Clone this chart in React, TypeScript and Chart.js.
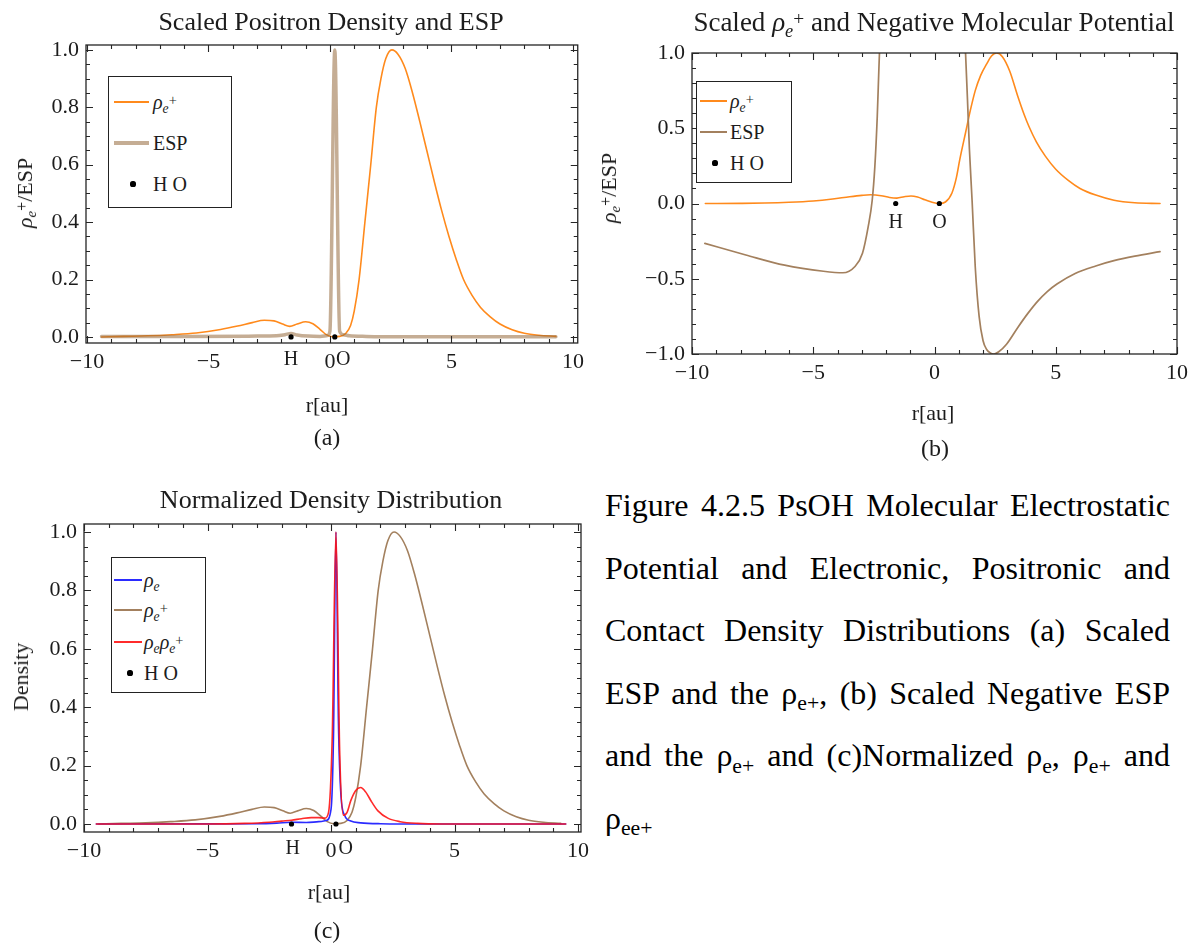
import React, { useEffect, useRef } from "react";
import { Chart, registerables } from "chart.js";

Chart.register(...registerables);

const SERIF = "'Liberation Serif', 'Times New Roman', Times, serif";
const TEXT = "#1c1c1c";
const ORANGE = "#ff8a1c";
const TAN = "rgba(150, 105, 60, 0.55)";
const BROWN = "#a3805e";
const BLUE = "#2b2bff";
const RED = "rgba(255, 20, 20, 0.9)";

// ---------------- data ----------------
// positron density rho_e+ (panels a and c)
const rhoPosR = [-9.4, -8.5, -7.5, -6.5, -5.5, -4.5, -3.8, -3.2, -2.7, -2.3, -1.95, -1.65, -1.35, -1.0, -0.7, -0.4, -0.15, 0.1, 0.4, 0.65, 0.85, 1.0, 1.2, 1.44, 1.68, 1.91, 2.1, 2.3, 2.55, 2.8, 3.1, 3.4, 3.7, 4.0, 4.3, 4.6, 4.9, 5.2, 5.5, 5.85, 6.2, 6.6, 7.0, 7.5, 8.0, 8.6, 9.3];
const rhoPosV = [0.0, 0.002, 0.004, 0.008, 0.014, 0.026, 0.038, 0.05, 0.058, 0.056, 0.045, 0.037, 0.045, 0.053, 0.046, 0.026, 0.008, 0.001, 0.002, 0.012, 0.04, 0.09, 0.2, 0.4, 0.6, 0.8, 0.9, 0.97, 1.0, 0.985, 0.935, 0.85, 0.75, 0.645, 0.54, 0.44, 0.35, 0.27, 0.2, 0.145, 0.103, 0.07, 0.045, 0.025, 0.013, 0.006, 0.002];

// scaled ESP (panel a)
const espAR = [-9.4, -6, -3, -2.2, -1.85, -1.6, -1.35, -0.9, -0.4, -0.1, 0.0, 0.2, 0.4, 0.55, 0.8, 1.5, 3, 9.3];
const espAV = [0.002, 0.002, 0.003, 0.004, 0.008, 0.012, 0.007, 0.003, 0.002, 0.005, 0.02, 1.0, 0.02, 0.008, 0.004, 0.002, 0.001, 0.001];

// rho_e+ (panel b)
const rhoPosBR = [-9.45, -8, -7, -6, -5, -4.2, -3.5, -3, -2.64, -2.2, -1.85, -1.55, -1.25, -0.97, -0.7, -0.4, -0.1, 0.2, 0.45, 0.72, 0.9, 1.04, 1.28, 1.48, 1.68, 1.9, 2.16, 2.35, 2.56, 2.8, 3.1, 3.42, 3.7, 3.9, 4.2, 4.57, 5.0, 5.53, 6.0, 6.65, 7.4, 8.26, 9.3];
const rhoPosBV = [0, 0.001, 0.003, 0.008, 0.017, 0.03, 0.045, 0.054, 0.058, 0.052, 0.04, 0.036, 0.045, 0.05, 0.043, 0.025, 0.008, 0.0, 0.01, 0.07, 0.17, 0.29, 0.47, 0.62, 0.75, 0.85, 0.93, 0.98, 1.0, 0.975, 0.88, 0.72, 0.59, 0.51, 0.41, 0.315, 0.228, 0.152, 0.1, 0.056, 0.022, 0.005, 0.0];

// negative molecular potential (panel b)
const espBR = [-9.47, -7.78, -6.18, -4.58, -3.78, -3.29, -2.97, -2.73, -2.57, -2.46, -2.36, -2.29, -2.2, -2.0, -1.5, 0.5, 1.0, 1.2, 1.28, 1.36, 1.44, 1.55, 1.68, 1.84, 2.0, 2.15, 2.32, 2.45, 2.65, 2.97, 3.45, 3.85, 4.25, 4.65, 5.05, 5.8, 6.65, 7.4, 8.26, 9.3];
const espBV = [-0.265, -0.342, -0.41, -0.45, -0.46, -0.42, -0.33, -0.15, 0.02, 0.245, 0.58, 0.91, 1.3, 2.2, 4, 4, 2.2, 1.3, 1.0, 0.69, 0.36, 0.02, -0.42, -0.75, -0.91, -0.97, -0.995, -1.0, -0.985, -0.935, -0.82, -0.73, -0.65, -0.585, -0.535, -0.465, -0.415, -0.38, -0.35, -0.32];

// electron density rho_e (panel c)
const rhoElR = [-9.5, -5, -3, -2.2, -1.6, -1.0, -0.5, -0.2, 0.0, 0.1, 0.2, 0.3, 0.4, 0.55, 0.8, 1.2, 2, 4, 9.5];
const rhoElV = [0, 0.0005, 0.001, 0.003, 0.006, 0.005, 0.008, 0.012, 0.05, 0.3, 1.0, 0.35, 0.1, 0.03, 0.01, 0.004, 0.001, 0, 0];

// contact density rho_e rho_e+ (panel c)
const rhoCtR = [-9.5, -5, -3.5, -2.5, -2.0, -1.6, -1.2, -0.8, -0.5, -0.25, -0.1, 0.05, 0.2, 0.35, 0.5, 0.65, 0.8, 1.0, 1.2, 1.4, 1.65, 1.9, 2.3, 2.8, 3.5, 4.5, 9.5];
const rhoCtV = [0, 0, 0.002, 0.006, 0.01, 0.013, 0.018, 0.022, 0.022, 0.02, 0.04, 0.3, 1.0, 0.25, 0.03, 0.04, 0.08, 0.115, 0.125, 0.11, 0.075, 0.045, 0.02, 0.008, 0.002, 0, 0];

// nuclei
const atomNames = ["H", "O"];
const atomR = [-1.6, 0.2];
const atomV = [0, 0];
const atomLabelRA = [-1.6, 0.55];
const atomLabelRB = [-1.6, 0.2];
const atomLabelVB = -0.125;
const atomLabelRC = [-1.55, 0.6];

// ---------------- helpers ----------------
const pts = (xs: number[], ys: number[]) => xs.map((x, i) => ({ x, y: ys[i] }));
const fmt = (v: number, d: number) => {
  const s = Math.abs(v).toFixed(d);
  return v < -1e-9 ? "\u2212" + s : s;
};

const framePlugin = {
  id: "frameTicks",
  afterDatasetsDraw(chart: any, _a: any, opts: any) {
    const { ctx, chartArea: a } = chart;
    const xs = chart.scales.x;
    const ys = chart.scales.y;
    ctx.save();
    ctx.strokeStyle = "#262626";
    ctx.lineWidth = 1.3;
    ctx.strokeRect(a.left, a.top, a.right - a.left, a.bottom - a.top);
    ctx.lineWidth = 1.1;
    ctx.beginPath();
    for (let n = Math.ceil(xs.min - 1e-9); n <= xs.max + 1e-9; n++) {
      const p = Math.round(xs.getPixelForValue(n)) + 0.5;
      const L = n % 5 === 0 ? 7 : 4;
      ctx.moveTo(p, a.bottom);
      ctx.lineTo(p, a.bottom - L);
      ctx.moveTo(p, a.top);
      ctx.lineTo(p, a.top + L);
    }
    const k0 = Math.ceil(ys.min / opts.yMinor - 1e-6);
    const k1 = Math.floor(ys.max / opts.yMinor + 1e-6);
    for (let k = k0; k <= k1; k++) {
      const v = k * opts.yMinor;
      const q = v / opts.yMajor;
      const major = Math.abs(q - Math.round(q)) < 1e-6;
      const p = Math.round(ys.getPixelForValue(v)) + 0.5;
      const L = major ? 7 : 4;
      ctx.moveTo(a.left, p);
      ctx.lineTo(a.left + L, p);
      ctx.moveTo(a.right, p);
      ctx.lineTo(a.right - L, p);
    }
    ctx.stroke();
    ctx.fillStyle = TEXT;
    ctx.font = `20px ${SERIF}`;
    ctx.textAlign = "center";
    ctx.textBaseline = "middle";
    (opts.labels || []).forEach((l: any) => {
      const px = xs.getPixelForValue(l.r);
      const py = l.v !== undefined ? ys.getPixelForValue(l.v) : a.bottom + opts.labelOffset;
      ctx.fillText(l.text, px, py);
    });
    ctx.restore();
  },
};

type PanelSpec = {
  xMin: number; xMax: number; yMin: number; yMax: number; yStep: number; yMinor: number;
  yAxisWidth: number; xAxisHeight: number; padTop: number; padRight: number;
  datasets: any[]; labels: { text: string; r: number; v?: number }[]; labelOffset?: number;
};

function buildConfig(p: PanelSpec): any {
  const tickFont = { family: SERIF, size: 22 };
  return {
    type: "line",
    data: { datasets: p.datasets },
    options: {
      animation: false,
      responsive: false,
      devicePixelRatio: 1,
      events: [],
      layout: { padding: { top: p.padTop, right: p.padRight, left: 0, bottom: 0 } },
      plugins: {
        legend: { display: false },
        title: { display: false },
        tooltip: { enabled: false },
        frameTicks: { yMinor: p.yMinor, yMajor: p.yStep, labels: p.labels, labelOffset: p.labelOffset ?? 17 },
      },
      elements: {
        point: { radius: 0 },
        line: { cubicInterpolationMode: "monotone", borderCapStyle: "round", borderJoinStyle: "round" },
      },
      scales: {
        x: {
          type: "linear",
          min: p.xMin,
          max: p.xMax,
          grid: { display: false, drawTicks: false },
          border: { display: false },
          ticks: {
            stepSize: 5, includeBounds: false, autoSkip: false, maxRotation: 0, minRotation: 0,
            padding: 6, color: TEXT, font: tickFont,
            callback: (v: any) => fmt(Number(v), 0),
          },
          afterFit: (s: any) => { s.height = p.xAxisHeight; },
        },
        y: {
          type: "linear",
          min: p.yMin,
          max: p.yMax,
          grid: { display: false, drawTicks: false },
          border: { display: false },
          ticks: {
            stepSize: p.yStep, includeBounds: false, autoSkip: false,
            padding: 7, color: TEXT, font: tickFont,
            callback: (v: any) => fmt(Number(v), 1),
          },
          afterFit: (s: any) => { s.width = p.yAxisWidth; },
        },
      },
    },
    plugins: [framePlugin],
  };
}

const lineDs = (xs: number[], ys: number[], color: string, width: number, order: number) => ({
  data: pts(xs, ys), borderColor: color, borderWidth: width, pointRadius: 0, fill: false, order,
});
const dotDs = () => ({
  data: pts(atomR, atomV), showLine: false, pointRadius: 2.6, pointBackgroundColor: "#000",
  pointBorderWidth: 0, borderColor: "#000", order: 0,
});

const configA = () => buildConfig({
  xMin: -10.04, xMax: 10.2, yMin: -0.021, yMax: 1.017, yStep: 0.2, yMinor: 0.05,
  yAxisWidth: 86, xAxisHeight: 57, padTop: 25, padRight: 12,
  datasets: [
    dotDs(),
    lineDs(espAR, espAV, TAN, 3.5, 1),
    lineDs(rhoPosR, rhoPosV, ORANGE, 1.6, 2),
  ],
  labels: atomNames.map((t, i) => ({ text: t, r: atomLabelRA[i] })),
});

const configB = () => buildConfig({
  xMin: -10, xMax: 10, yMin: -1, yMax: 1, yStep: 0.5, yMinor: 0.1,
  yAxisWidth: 92, xAxisHeight: 56, padTop: 33, padRight: 16,
  datasets: [
    dotDs(),
    lineDs(espBR, espBV, BROWN, 1.7, 1),
    lineDs(rhoPosBR, rhoPosBV, ORANGE, 1.6, 2),
  ],
  labels: atomNames.map((t, i) => ({ text: t, r: atomLabelRB[i], v: atomLabelVB })),
});

const configC = () => buildConfig({
  xMin: -10, xMax: 10.12, yMin: -0.0274, yMax: 1.0274, yStep: 0.2, yMinor: 0.05,
  yAxisWidth: 84, xAxisHeight: 48, padTop: 24, padRight: 19,
  datasets: [
    dotDs(),
    lineDs(rhoCtR, rhoCtV, RED, 1.6, 1),
    lineDs(rhoElR, rhoElV, BLUE, 1.6, 2),
    lineDs(rhoPosR, rhoPosV, BROWN, 1.6, 3),
  ],
  labels: atomNames.map((t, i) => ({ text: t, r: atomLabelRC[i] })),
});

// ---------------- components ----------------
function ChartCanvas(props: { left: number; top: number; width: number; height: number; config: () => any }) {
  const ref = useRef<HTMLCanvasElement>(null);
  useEffect(() => {
    const chart = new Chart(ref.current as HTMLCanvasElement, props.config());
    return () => chart.destroy();
  }, []);
  return (
    <canvas
      ref={ref}
      width={props.width}
      height={props.height}
      style={{ position: "absolute", left: props.left, top: props.top, width: props.width, height: props.height }}
    />
  );
}

function Txt(props: { x: number; y: number; size: number; rot?: boolean; left?: boolean; children: React.ReactNode }) {
  const tx = props.left ? "0" : "-50%";
  return (
    <div
      style={{
        position: "absolute", left: props.x, top: props.y,
        transform: `translate(${tx}, -50%)${props.rot ? " rotate(-90deg)" : ""}`,
        fontSize: props.size, lineHeight: 1, whiteSpace: "nowrap", fontFamily: SERIF, color: TEXT,
      }}
    >
      {props.children}
    </div>
  );
}

const Sub = (p: { children: React.ReactNode }) => (
  <span style={{ fontSize: "0.68em", position: "relative", top: "0.3em" }}>{p.children}</span>
);
const Plus = () => (
  <span style={{ fontSize: "0.72em", position: "relative", top: "-0.3em" }}>+</span>
);
const RhoE = (p: { plus?: boolean }) => (
  <span>
    <i>ρ</i>
    <Sub><i>e</i></Sub>
    {p.plus ? <Plus /> : null}
  </span>
);

type LegendItem = { kind: "line" | "dot"; color?: string; width?: number; y: number; label: React.ReactNode };
function Legend(p: { box: [number, number, number, number]; lx1: number; lx2: number; dotX: number; textX: number; items: LegendItem[] }) {
  const [x0, y0, x1, y1] = p.box;
  return (
    <>
      <div style={{ position: "absolute", left: x0, top: y0, width: x1 - x0, height: y1 - y0, border: "1.5px solid #222", boxSizing: "border-box", background: "#fff" }} />
      {p.items.map((it, i) => (
        <React.Fragment key={i}>
          {it.kind === "line" ? (
            <div style={{ position: "absolute", left: p.lx1, top: it.y - (it.width || 1.6) / 2, width: p.lx2 - p.lx1, height: it.width || 1.6, background: it.color }} />
          ) : (
            <div style={{ position: "absolute", left: p.dotX - 2.6, top: it.y - 2.6, width: 5.2, height: 5.2, borderRadius: "50%", background: "#000" }} />
          )}
          <Txt x={p.textX} y={it.y} size={20} left>{it.label}</Txt>
        </React.Fragment>
      ))}
    </>
  );
}

const captionLines: React.ReactNode[] = [
  <>Figure 4.2.5 PsOH Molecular Electrostatic</>,
  <>Potential and Electronic, Positronic and</>,
  <>Contact Density Distributions (a) Scaled</>,
  <>ESP and the ρ<Sub>e+</Sub>, (b) Scaled Negative ESP</>,
  <>and the ρ<Sub>e+</Sub> and (c)Normalized ρ<Sub>e</Sub>, ρ<Sub>e+</Sub> and</>,
  <>ρ<Sub>ee+</Sub></>,
];

export default function App() {
  return (
    <div style={{ position: "fixed", left: 0, top: 0, width: 1194, height: 945, background: "#fff", overflow: "hidden", fontFamily: SERIF, color: TEXT }}>
      <ChartCanvas left={0} top={20} width={590} height={380} config={configA} />
      <ChartCanvas left={600} top={20} width={594} height={390} config={configB} />
      <ChartCanvas left={0} top={500} width={600} height={380} config={configC} />

      {/* panel (a) */}
      <Txt x={331} y={22} size={26}>Scaled Positron Density and ESP</Txt>
      <Txt x={25} y={193} size={22} rot><RhoE plus />/ESP</Txt>
      <Txt x={327} y={405} size={22}>r[au]</Txt>
      <Txt x={327} y={437} size={24}>(a)</Txt>
      <Legend
        box={[108, 76, 232, 208]} lx1={114} lx2={149} dotX={133} textX={153}
        items={[
          { kind: "line", color: ORANGE, width: 1.6, y: 102, label: <RhoE plus /> },
          { kind: "line", color: TAN, width: 3.5, y: 143, label: "ESP" },
          { kind: "dot", y: 184, label: "H O" },
        ]}
      />

      {/* panel (b) */}
      <Txt x={934} y={22} size={27}>Scaled <RhoE plus /> and Negative Molecular Potential</Txt>
      <Txt x={609} y={188} size={22} rot><RhoE plus />/ESP</Txt>
      <Txt x={933} y={413} size={22}>r[au]</Txt>
      <Txt x={935} y={448} size={24}>(b)</Txt>
      <Legend
        box={[696, 81, 792, 183]} lx1={700} lx2={727} dotX={715} textX={730}
        items={[
          { kind: "line", color: ORANGE, width: 1.6, y: 101, label: <RhoE plus /> },
          { kind: "line", color: BROWN, width: 1.7, y: 132, label: "ESP" },
          { kind: "dot", y: 163, label: "H O" },
        ]}
      />

      {/* panel (c) */}
      <Txt x={331} y={500} size={26}>Normalized Density Distribution</Txt>
      <Txt x={21} y={677} size={22} rot>Density</Txt>
      <Txt x={329} y={892} size={22}>r[au]</Txt>
      <Txt x={327} y={930} size={24}>(c)</Txt>
      <Legend
        box={[111, 557, 206, 693]} lx1={114} lx2={142} dotX={130} textX={144}
        items={[
          { kind: "line", color: BLUE, width: 1.6, y: 580, label: <RhoE /> },
          { kind: "line", color: BROWN, width: 1.6, y: 610, label: <RhoE plus /> },
          { kind: "line", color: RED, width: 1.6, y: 642, label: <span><RhoE /><RhoE plus /></span> },
          { kind: "dot", y: 673, label: "H O" },
        ]}
      />

      {/* caption */}
      {captionLines.map((ln, i) => (
        <div
          key={i}
          style={{
            position: "absolute", left: 605, top: 474 + i * 62.5, width: 565, height: 62.5,
            fontSize: 32, lineHeight: "62.5px", fontFamily: SERIF, color: "#000", whiteSpace: "nowrap",
            textAlign: i < captionLines.length - 1 ? "justify" : "left",
            textAlignLast: i < captionLines.length - 1 ? "justify" : "left",
          } as any}
        >
          {ln}
        </div>
      ))}
    </div>
  );
}
